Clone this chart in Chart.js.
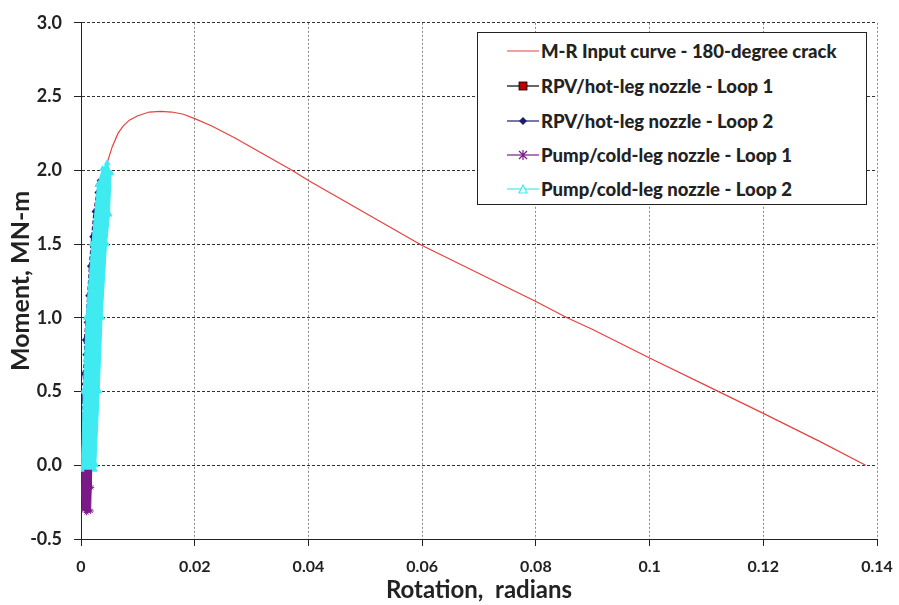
<!DOCTYPE html>
<html>
<head>
<meta charset="utf-8">
<script src="https://cdn.jsdelivr.net/npm/chart.js@4.4.1/dist/chart.umd.min.js"></script>
<style>
  body { margin: 0; background: #fff; }
  #wrap { position: relative; width: 899px; height: 605px; }
  #legend {
    position: absolute; left: 477px; top: 32px; width: 390px; height: 173px;
    box-sizing: border-box; border: 1px solid #222; background: #fff;
    font-family: Lato, "Open Sans", sans-serif; font-weight: 900; font-size: 18.5px; color: #222;
  }
  #legend .row { position: absolute; left: 28px; height: 22px; display: flex; align-items: center; }
  #legend svg { width: 34px; height: 14px; margin-right: 1px; }
</style>
</head>
<body>
<div id="wrap">
  <canvas id="myScatterChart" width="899" height="605"></canvas>
  <div id="legend"></div>
</div>
<script>
// M-R input curve (180-degree crack)
const mrRotation = [0, 0.001, 0.002, 0.003, 0.004, 0.0046, 0.0055, 0.0065, 0.0074, 0.0085, 0.010, 0.012, 0.014, 0.016, 0.018, 0.020, 0.023, 0.027, 0.0371, 0.040, 0.050, 0.060, 0.070, 0.080, 0.0855, 0.090, 0.100, 0.110, 0.120, 0.130, 0.138];
const mrMoment   = [0, 0.6, 1.15, 1.6, 1.92, 2.05, 2.16, 2.25, 2.30, 2.34, 2.37, 2.395, 2.40, 2.395, 2.38, 2.35, 2.30, 2.22, 2.0, 1.93, 1.71, 1.49, 1.30, 1.11, 1.0, 0.92, 0.727, 0.54, 0.352, 0.16, 0];

// RPV/hot-leg nozzle - Loop 1 (mostly hidden under the other series)
const rpv1Rotation = [0.0004, 0.0008, 0.0012, 0.0018, 0.0025, 0.0032, 0.0038];
const rpv1Moment   = [0.02, 0.35, 0.7, 1.1, 1.45, 1.75, 1.95];

// RPV/hot-leg nozzle - Loop 2
const rpv2Rotation = [0.0000, 0.0004, 0.0007, 0.0002, 0.0001, 0.0004, 0.0003, 0.0005, 0.0004, 0.0007, 0.0006, 0.0009, 0.0012, 0.0015, 0.0019, 0.0023, 0.0028, 0.0032];
const rpv2Moment   = [0.02, 0.04, 0.08, 0.15, 0.25, 0.32, 0.45, 0.55, 0.62, 0.75, 0.85, 0.97, 1.15, 1.35, 1.55, 1.72, 1.85, 1.93];

// Pump/cold-leg nozzle - Loop 1 (band below zero)
const pump1Rotation = [0.0000, 0.0019, 0.0018, 0.0017, 0.0010, 0.0002, 0.0001];
const pump1Moment   = [-0.02, -0.02, -0.15, -0.31, -0.32, -0.30, -0.15];

// Pump/cold-leg nozzle - Loop 2 (outline of the dense cloud of points)
const pump2Rotation = [0.0001, 0.0004, 0.0009, 0.0019, 0.0029, 0.0038, 0.0046, 0.0053, 0.0050, 0.0045, 0.0037, 0.0032, 0.0026, 0.0024];
const pump2Moment   = [-0.03, 0.5, 1.0, 1.5, 1.9, 2.01, 2.05, 1.98, 1.7, 1.5, 1.0, 0.5, 0.0, -0.03];

const xTickLabels = ['0', '0.02', '0.04', '0.06', '0.08', '0.1', '0.12', '0.14'];
const yTickLabels = ['-0.5', '0.0', '0.5', '1.0', '1.5', '2.0', '2.5', '3.0'];

const toPoints = (xs, ys) => xs.map((x, i) => ({ x: x, y: ys[i] }));

const series = [
  { label: 'M-R Input curve - 180-degree crack', data: toPoints(mrRotation, mrMoment),
    borderColor: '#e8413c', backgroundColor: '#e8413c', borderWidth: 1.2, pointRadius: 0, order: 4, showLine: true },
  { label: 'RPV/hot-leg nozzle - Loop 1', data: toPoints(rpv1Rotation, rpv1Moment),
    borderColor: '#000', backgroundColor: '#c00000', borderWidth: 1, pointStyle: 'rect', pointRadius: 2.5, order: 3, showLine: true },
  { label: 'RPV/hot-leg nozzle - Loop 2', data: toPoints(rpv2Rotation, rpv2Moment),
    borderColor: '#1c1c78', backgroundColor: '#1c1c78', borderWidth: 1.5, borderDash: [4, 2], pointStyle: 'rectRot', pointRadius: 1.5, order: 2, showLine: true },
  { label: 'Pump/cold-leg nozzle - Loop 1', data: toPoints(pump1Rotation, pump1Moment),
    borderColor: '#7a1a88', backgroundColor: '#7a1a88', borderWidth: 1, pointStyle: 'star', pointRadius: 3,
    fill: 'shape', order: 1, showLine: true },
  { label: 'Pump/cold-leg nozzle - Loop 2', data: toPoints(pump2Rotation, pump2Moment),
    borderColor: '#3feaf0', backgroundColor: '#3feaf0', borderWidth: 1, pointStyle: 'triangle', pointRadius: 3,
    fill: 'shape', order: 0, showLine: true }
];

var chartMoment = document.getElementById('myScatterChart');

var myScatterChart = new Chart(chartMoment, {
  type: 'scatter',
  data: { datasets: series },
  options: {
    responsive: false,
    animation: false,
    layout: { padding: { top: 18, right: 22, left: 0, bottom: 0 } },
    plugins: {
      legend: { display: false },
      tooltip: { enabled: false }
    },
    scales: {
      x: {
        type: 'linear', min: 0, max: 0.14,
        afterFit: s => { s.height = 66; s.paddingRight = 0; s.paddingLeft = 0; },
        ticks: {
          stepSize: 0.02, padding: 11, color: '#222', maxRotation: 0, minRotation: 0,
          font: { family: 'Lato', size: 16, weight: 'bold' },
          callback: (v) => xTickLabels[Math.round(v / 0.02)]
        },
        grid: { color: '#888', tickColor: '#222', tickLength: 7, tickBorderDash: [] },
        border: { color: '#222', width: 1, dash: [2, 2] },
        title: { display: true, text: 'Rotation,  radians', color: '#222',
          font: { family: 'Lato', size: 24, weight: 'bold' }, padding: { top: 0, bottom: 0 } }
      },
      y: {
        type: 'linear', min: -0.5, max: 3.0,
        afterFit: s => { s.width = 81; },
        ticks: {
          stepSize: 0.5, padding: 12, color: '#222',
          font: { family: 'Lato', size: 18, weight: 'bold' },
          callback: (v) => yTickLabels[Math.round((v + 0.5) / 0.5)]
        },
        grid: { color: '#333', tickColor: '#222', tickLength: 7, tickBorderDash: [] },
        border: { color: '#222', width: 1, dash: [3, 2] },
        title: { display: true, text: 'Moment, MN-m', color: '#222',
          font: { family: 'Lato', size: 25, weight: 'bold' }, padding: { top: 6, bottom: 0 } }
      }
    }
  }
});

// legend box drawn as html, samples mimic line + marker
const legendIcons = [
  '<line x1="1" y1="7" x2="33" y2="7" stroke="#e8413c" stroke-width="1"/>',
  '<line x1="1" y1="7" x2="33" y2="7" stroke="#000" stroke-width="1.2"/><rect x="13" y="3" width="8" height="8" fill="#c00000" stroke="#000" stroke-width="0.8"/>',
  '<line x1="1" y1="7" x2="33" y2="7" stroke="#1c1c78" stroke-width="1.2"/><polygon points="17,3 21,7 17,11 13,7" fill="#1c1c78"/>',
  '<line x1="1" y1="7" x2="33" y2="7" stroke="#7a1a88" stroke-width="1.2"/><path d="M13,3 L21,11 M21,3 L13,11 M17,2 L17,12" stroke="#7a1a88" stroke-width="1.2"/>',
  '<line x1="1" y1="7" x2="33" y2="7" stroke="#3feaf0" stroke-width="1.2"/><polygon points="17,3 21,11 13,11" fill="#fff" stroke="#3feaf0" stroke-width="1.2"/>'
];
const legendRowsTop = [7, 42, 77, 111, 145];
document.getElementById('legend').innerHTML = series.map((s, i) =>
  '<div class="row" style="top:' + legendRowsTop[i] + 'px"><svg viewBox="0 0 34 14">' + legendIcons[i] + '</svg>' + s.label + '</div>'
).join('');
</script>
</body>
</html>
